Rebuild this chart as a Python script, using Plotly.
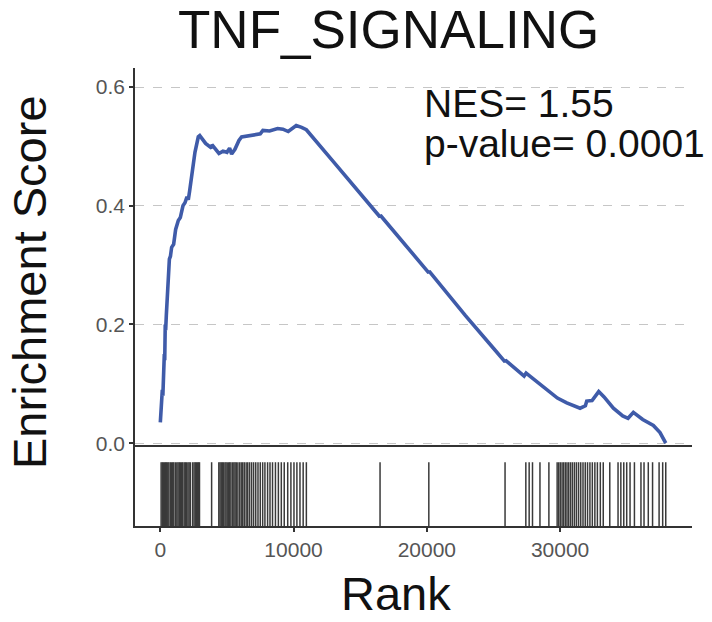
import plotly.graph_objects as go

# Running enrichment score (rank, ES)
rank_pts = [1, 60, 100, 150, 190, 230, 270, 300, 330, 370, 400, 450, 520, 600, 680,
            760, 850, 1000, 1150, 1350, 1500, 1700, 1850, 2000, 2100, 2200, 2400,
            2600, 2850, 2960, 3400, 3850, 3870, 4400, 4700, 5000, 5200, 5350, 5600,
            5900, 6100, 6600, 7000, 7500, 7700, 8200, 8800, 9200, 9600, 9900, 10200,
            10600, 10960, 13000, 16490, 16510, 20150, 20170, 22900, 25000, 25870,
            25890, 27300, 27450, 27900, 28500, 29100, 29800, 30500, 31500, 31900,
            32000, 32400, 32900, 33300, 34000, 34700, 35100, 35500, 36200, 37000,
            37500, 37930]
es_pts = [0.035, 0.065, 0.055, 0.09, 0.08, 0.12, 0.11, 0.15, 0.14, 0.20, 0.19, 0.215,
          0.25, 0.28, 0.31, 0.315, 0.33, 0.335, 0.36, 0.375, 0.38, 0.40, 0.405, 0.415,
          0.41, 0.425, 0.46, 0.49, 0.516, 0.518, 0.505, 0.497, 0.503, 0.488, 0.492,
          0.49, 0.497, 0.487, 0.495, 0.51, 0.516, 0.518, 0.519, 0.521, 0.527, 0.526,
          0.530, 0.529, 0.525, 0.530, 0.535, 0.532, 0.528, 0.474, 0.381, 0.384, 0.287,
          0.290, 0.215, 0.16, 0.137, 0.140, 0.113, 0.118, 0.110, 0.100, 0.088, 0.076,
          0.068, 0.059, 0.063, 0.071, 0.072, 0.087, 0.078, 0.059, 0.046, 0.042, 0.052,
          0.040, 0.030, 0.018, 0.0]

# Positions of gene-set members in the ranked list
hit_ranks = [60, 150, 230, 320, 400, 470, 560, 640, 750, 840, 930, 1010, 1130, 1240,
             1330, 1420, 1500, 1600, 1680, 1790, 1880, 1960, 2070, 2160, 2250, 2420,
             2530, 2620, 2700, 2790, 2870, 2940,
             3850,
             4390, 4480, 4570, 4660, 4740, 4850, 4930, 5020, 5130, 5210, 5300, 5420,
             5520, 5610, 5700, 5820, 5950, 6070, 6180, 6300, 6440, 6560, 6700, 6850,
             7000, 7160, 7330, 7500, 7680, 7850, 8050, 8230, 8420, 8640, 8860, 9080,
             9300, 9560, 9800, 10030, 10250, 10480, 10720, 10960,
             16490, 20150, 25870, 27430, 27680, 27930, 28490, 29160,
             29780, 29900, 30020, 30150, 30270, 30400, 30520, 30650, 30790, 30930,
             31080, 31230, 31390, 31550, 31720, 31890, 32060, 32240, 32420, 32610,
             32800, 33020, 33240, 33730,
             34350, 34560, 34780, 35000, 35250, 35580,
             36070, 36300, 36620, 36940, 37430, 37700, 37930]

y_ticks = [0.0, 0.2, 0.4, 0.6]
x_ticks = [0, 10000, 20000, 30000]
gene_set = "TNF_SIGNALING"
nes_value = "1.55"
p_value = "0.0001"

W, H = 712, 622
ML, MR, MT, MB = 135, 20, 68, 96
PH = H - MT - MB
rug_frac = 81 / PH
x_range = [-1900, 39900]
FONT = "Liberation Sans, Arial, Helvetica, sans-serif"
AX = "#333333"


def px_x(px):
    return (px - ML) / (W - ML - MR)


def px_y(py):
    return (H - MB - py) / PH


fig = go.Figure()
fig.add_trace(go.Scatter(
    x=rank_pts, y=es_pts, mode="lines",
    line=dict(color="#3F5BA9", width=3.6),
    xaxis="x", yaxis="y", hoverinfo="skip"))

seg_x, seg_y = [], []
for r in hit_ranks:
    seg_x += [r, r, None]
    seg_y += [0, 1, None]
fig.add_trace(go.Scatter(
    x=seg_x, y=seg_y, mode="lines",
    line=dict(color="#3a3a3a", width=1.5),
    xaxis="x2", yaxis="y2", hoverinfo="skip"))

axis_common = dict(showline=True, linecolor=AX, linewidth=1.6, zeroline=False)

fig.update_layout(
    width=W, height=H,
    margin=dict(l=ML, r=MR, t=MT, b=MB),
    paper_bgcolor="white", plot_bgcolor="white",
    showlegend=False,
    font=dict(family=FONT),
    xaxis=dict(domain=[0, 1], anchor="y", range=x_range, showticklabels=False,
               ticks="", showgrid=False, **axis_common),
    yaxis=dict(domain=[rug_frac, 1], anchor="x", range=[-0.003, 0.632],
               tickvals=y_ticks, ticktext=[f"{v:.1f}" for v in y_ticks],
               ticks="outside", ticklen=4, tickwidth=1.6, tickcolor=AX,
               tickfont=dict(size=21, color="#555555"),
               showgrid=True, gridcolor="#c6c6c6", gridwidth=1.3, griddash="dash",
               **axis_common),
    xaxis2=dict(domain=[0, 1], anchor="y2", range=x_range,
                tickvals=x_ticks, ticktext=[str(v) for v in x_ticks],
                ticks="outside", ticklen=4, tickwidth=1.6, tickcolor=AX,
                tickfont=dict(size=21, color="#555555"),
                showgrid=False, **axis_common),
    yaxis2=dict(domain=[0, rug_frac], anchor="x2", range=[0, 1.27],
                showticklabels=False, ticks="", showgrid=False, **axis_common),
)

annots = [
    dict(text=gene_set, x=px_x(388), y=px_y(30), font=dict(size=53, color="#111111"),
         xanchor="center", yanchor="middle"),
    dict(text="Rank", x=px_x(396), y=px_y(593), font=dict(size=47, color="#111111"),
         xanchor="center", yanchor="middle"),
    dict(text="Enrichment Score", x=px_x(29), y=px_y(282), textangle=-90,
         font=dict(size=47, color="#111111"), xanchor="center", yanchor="middle"),
    dict(text=f"NES= {nes_value}", x=px_x(422), y=px_y(104),
         font=dict(size=39, color="#111111"), xanchor="left", yanchor="middle"),
    dict(text=f"p-value= {p_value}", x=px_x(422), y=px_y(143),
         font=dict(size=39, color="#111111"), xanchor="left", yanchor="middle"),
]
for a in annots:
    fig.add_annotation(xref="paper", yref="paper", showarrow=False, **a)

fig.write_html("out.html")
